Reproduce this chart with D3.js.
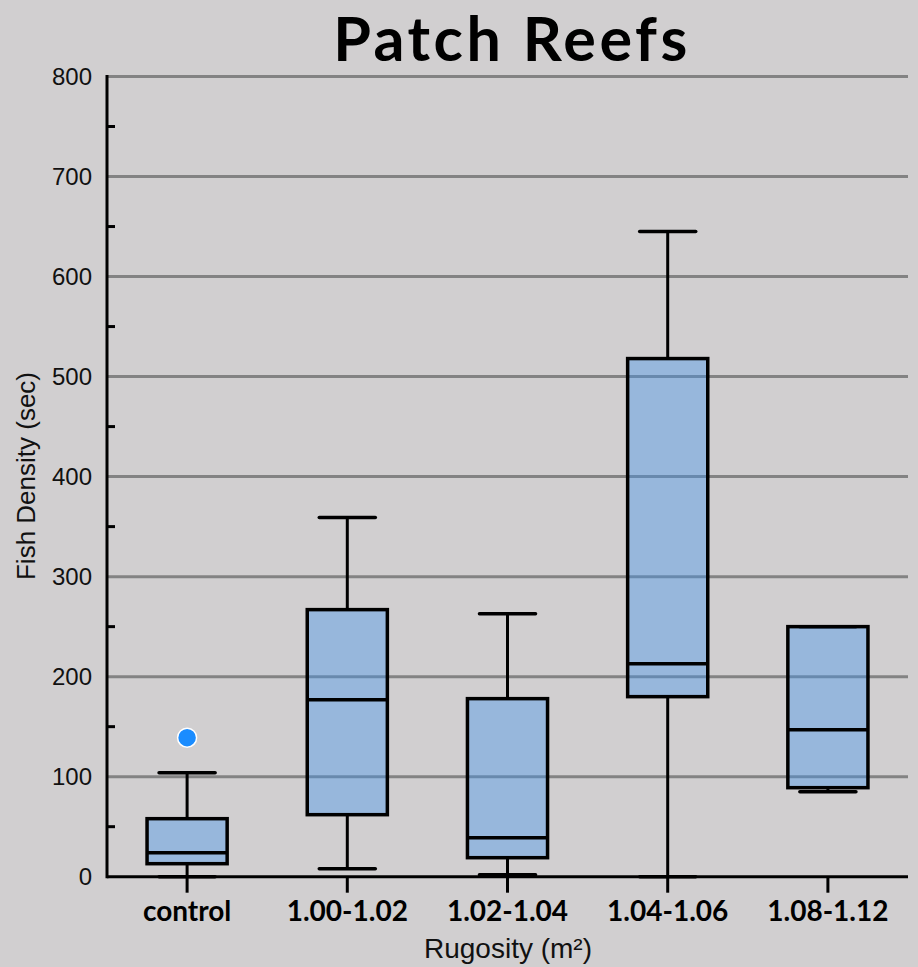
<!DOCTYPE html>
<html>
<head>
<meta charset="utf-8">
<script src="https://cdn.jsdelivr.net/npm/d3@7"></script>
<style>
  html, body { margin: 0; padding: 0; background: #d1cfd0; }
  svg { display: block; }
</style>
</head>
<body>
<svg id="chart" width="918" height="967"></svg>
<script>
// Fish density by rugosity class on patch reefs (box plot summaries)
const categories   = ["control", "1.00-1.02", "1.02-1.04", "1.04-1.06", "1.08-1.12"];
const whiskerLow   = [0,   8,   2,   0,   85];
const q1           = [13,  62,  19,  180, 89];
const median       = [24,  177, 39,  213, 147];
const q3           = [58,  267, 178, 518, 250];
const whiskerHigh  = [104, 359, 263, 645, 250];
const outlierCats  = ["control"];
const outlierVals  = [139];
const yTicks       = [0, 100, 200, 300, 400, 500, 600, 700, 800];
const yMinorTicks  = [50, 150, 250, 350, 450, 550, 650, 750];

const boxes = categories.map((c, i) => ({
  cat: c, lo: whiskerLow[i], q1: q1[i], med: median[i], q3: q3[i], hi: whiskerHigh[i]
}));
const outliers = outlierCats.map((c, i) => ({ cat: c, value: outlierVals[i] }));

const svg = d3.select("#chart");
const plotLeft = 107, plotRight = 908, plotTop = 76.5, plotBottom = 876.7;

const x = d3.scaleBand().domain(categories).range([plotLeft, plotRight]).paddingInner(0).paddingOuter(0);
const y = d3.scaleLinear().domain([0, 800]).range([plotBottom, plotTop]);

const boxW = x.bandwidth() * 0.5;
const capW = x.bandwidth() * 0.35;
const cx = d => x(d) + x.bandwidth() / 2;

// Title
svg.append("text")
  .attr("x", 512).attr("y", 61)
  .attr("text-anchor", "middle")
  .style("font-family", "Lato, 'Open Sans', sans-serif")
  .style("font-weight", "bold")
  .style("font-size", "61px")
  .style("letter-spacing", "3.5px")
  .attr("fill", "#000")
  .text("Patch Reefs");

// Horizontal gridlines
svg.append("g")
  .selectAll("line")
  .data(yTicks.filter(t => t > 0))
  .join("line")
  .attr("x1", plotLeft).attr("x2", plotRight)
  .attr("y1", d => y(d)).attr("y2", d => y(d))
  .attr("stroke", "#838383")
  .attr("stroke-width", 3);

// Y axis with labels
const yAxis = d3.axisLeft(y).tickValues(yTicks).tickSize(0).tickPadding(15).tickFormat(d3.format("d"));
const yg = svg.append("g").attr("transform", `translate(${plotLeft},0)`).call(yAxis);
yg.select(".domain").remove();
yg.selectAll("text")
  .style("font-family", "'Liberation Sans', Arial, sans-serif")
  .style("font-size", "24px")
  .attr("fill", "#111");

// Minor ticks on the inside of the y axis
svg.append("g")
  .selectAll("line")
  .data(yMinorTicks)
  .join("line")
  .attr("x1", plotLeft).attr("x2", plotLeft + 8)
  .attr("y1", d => y(d)).attr("y2", d => y(d))
  .attr("stroke", "#000").attr("stroke-width", 3);

// Box plots
const g = svg.append("g");
const bx = g.selectAll("g.box").data(boxes).join("g").attr("class", "box");

// whiskers
bx.append("line")
  .attr("x1", d => cx(d.cat)).attr("x2", d => cx(d.cat))
  .attr("y1", d => y(d.hi)).attr("y2", d => y(d.q3))
  .attr("stroke", "#000").attr("stroke-width", 3);
bx.append("line")
  .attr("x1", d => cx(d.cat)).attr("x2", d => cx(d.cat))
  .attr("y1", d => y(d.q1)).attr("y2", d => y(d.lo))
  .attr("stroke", "#000").attr("stroke-width", 3);
// caps
bx.append("line")
  .attr("x1", d => cx(d.cat) - capW / 2).attr("x2", d => cx(d.cat) + capW / 2)
  .attr("y1", d => y(d.hi)).attr("y2", d => y(d.hi))
  .attr("stroke", "#000").attr("stroke-width", 3.5).attr("stroke-linecap", "round");
bx.append("line")
  .attr("x1", d => cx(d.cat) - capW / 2).attr("x2", d => cx(d.cat) + capW / 2)
  .attr("y1", d => y(d.lo)).attr("y2", d => y(d.lo))
  .attr("stroke", "#000").attr("stroke-width", 3.5).attr("stroke-linecap", "round");
// box
bx.append("rect")
  .attr("x", d => cx(d.cat) - boxW / 2)
  .attr("width", boxW)
  .attr("y", d => y(d.q3))
  .attr("height", d => y(d.q1) - y(d.q3))
  .attr("fill", "rgba(65,148,238,0.4)")
  .attr("stroke", "#000").attr("stroke-width", 3.5);
// median
bx.append("line")
  .attr("x1", d => cx(d.cat) - boxW / 2).attr("x2", d => cx(d.cat) + boxW / 2)
  .attr("y1", d => y(d.med)).attr("y2", d => y(d.med))
  .attr("stroke", "#000").attr("stroke-width", 3.5);

// Outliers
svg.append("g")
  .selectAll("circle")
  .data(outliers)
  .join("circle")
  .attr("cx", d => cx(d.cat))
  .attr("cy", d => y(d.value))
  .attr("r", 9.5)
  .attr("fill", "#1a8cff")
  .attr("stroke", "#fff").attr("stroke-width", 1.5);

// X axis
const xAxis = d3.axisBottom(x).tickSize(16).tickPadding(8);
const xg = svg.append("g").attr("transform", `translate(0,${plotBottom})`).call(xAxis);
xg.select(".domain").attr("stroke", "#000").attr("stroke-width", 3)
  .attr("d", `M${plotLeft},0H${plotRight}`);
xg.selectAll(".tick line").attr("stroke", "#000").attr("stroke-width", 3);
xg.selectAll(".tick text")
  .style("font-family", "Lato, 'Open Sans', sans-serif")
  .style("font-weight", "bold")
  .style("font-size", "28px")
  .attr("fill", "#000");

// Y axis line
svg.append("line")
  .attr("x1", plotLeft).attr("x2", plotLeft)
  .attr("y1", y(800) - 1.5).attr("y2", plotBottom + 1.5)
  .attr("stroke", "#000").attr("stroke-width", 3);

// Axis titles
svg.append("text")
  .attr("x", 508).attr("y", 958)
  .attr("text-anchor", "middle")
  .style("font-family", "'Liberation Sans', Arial, sans-serif")
  .style("font-size", "28px")
  .attr("fill", "#111")
  .text("Rugosity (m²)");

svg.append("text")
  .attr("transform", "translate(35,476) rotate(-90)")
  .attr("text-anchor", "middle")
  .style("font-family", "'Liberation Sans', Arial, sans-serif")
  .style("font-size", "26px")
  .attr("fill", "#111")
  .text("Fish Density (sec)");
</script>
</body>
</html>
